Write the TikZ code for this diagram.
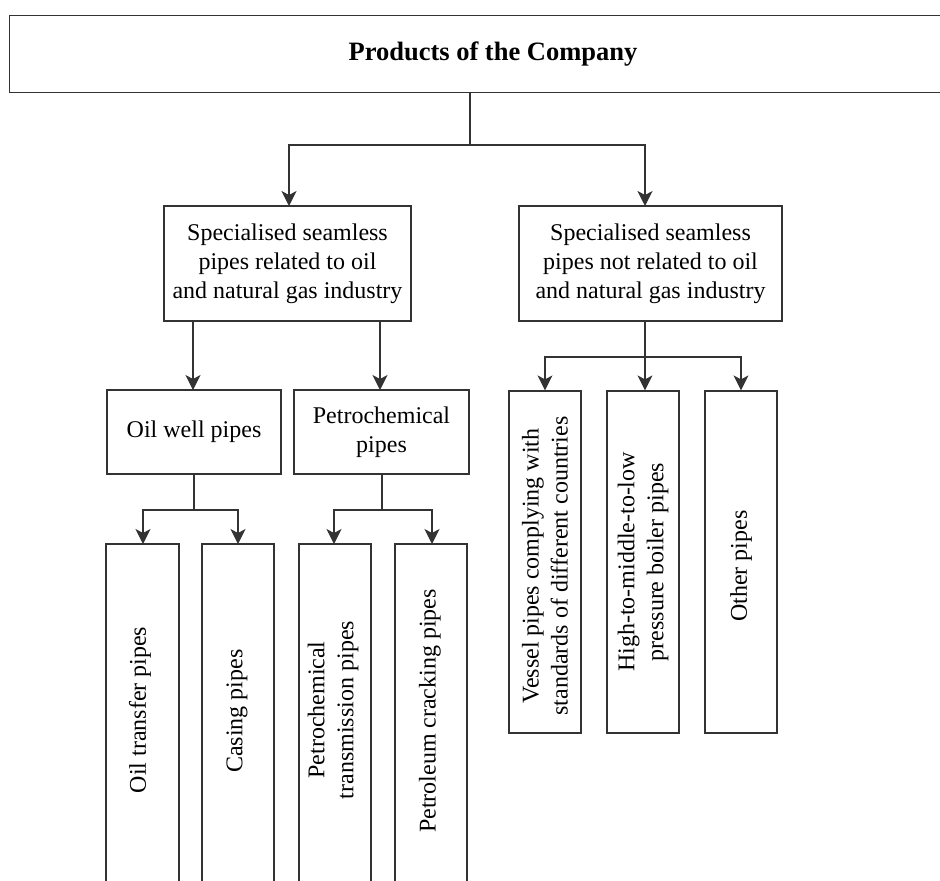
\documentclass[tikz,border=0pt]{standalone}
\usepackage{fontspec}
\setmainfont{Liberation Serif}
\usetikzlibrary{arrows.meta}
\definecolor{ln}{HTML}{333333}
\tikzset{
  box/.style={draw=ln, line width=1.2pt, rectangle, inner sep=0pt, align=center,
    font=\fontsize{24}{29}\selectfont, text=black},
  rot/.style={rotate=90, inner sep=0pt, align=center, font=\fontsize{24}{29}\selectfont, text=black},
  conn/.style={draw=ln, line width=1.2pt},
  arr/.style={conn, -{Stealth[length=15pt, width=15pt, inset=4pt]}}
}
\begin{document}
\begin{tikzpicture}[x=1pt,y=-1pt]
\useasboundingbox (0,0) rectangle (940,881);
\clip (0,0) rectangle (940,881);
% top
\node[box, minimum width=967pt, minimum height=77pt, font=\fontsize{26.5}{32}\selectfont\bfseries] (top) at (493,53.7) {Products of the Company};
% level 1
\node[box, minimum width=247pt, minimum height=115pt] (L1) at (287.5,263.5) {Specialised seamless\\pipes related to oil\\and natural gas industry};
\node[box, minimum width=263pt, minimum height=115pt] (R1) at (650.5,263.5) {Specialised seamless\\pipes not related to oil\\and natural gas industry};
% level 2
\node[box, minimum width=174pt, minimum height=84pt] (OW) at (194,432) {Oil well pipes};
\node[box, minimum width=175pt, minimum height=84pt] (PC) at (381.5,432) {Petrochemical\\pipes};
% right tall boxes
\node[box, minimum width=72pt, minimum height=342pt] (VS) at (545,562) {};
\node[box, minimum width=72pt, minimum height=342pt] (HM) at (643,562) {};
\node[box, minimum width=72pt, minimum height=342pt] (OP) at (741,562) {};
\node[rot] (VSt) at (545,566) {Vessel pipes complying with\\standards of different countries};
\node[rot] (HMt) at (643,562) {High-to-middle-to-low\\pressure boiler pipes};
\node[rot] (OPt) at (741,566) {Other pipes};
% bottom boxes (run past the lower edge)
\node[box, minimum width=73pt, minimum height=360pt] (OT) at (142.5,724) {};
\node[box, minimum width=72pt, minimum height=360pt] (CS) at (238,724) {};
\node[box, minimum width=72pt, minimum height=360pt] (PT) at (335,724) {};
\node[box, minimum width=72pt, minimum height=360pt] (PR) at (431,724) {};
\node[rot] (OTt) at (140,710) {Oil transfer pipes};
\node[rot] (CSt) at (237,711) {Casing pipes};
\node[rot] (PTt) at (333,710) {Petrochemical\\transmission pipes};
\node[rot] (PRt) at (430,711) {Petroleum cracking pipes};
% junction coordinates
\coordinate (j0) at (470,145);
\coordinate (a1) at (289,206);
\coordinate (a2) at (645,206);
\coordinate (b1s) at (193,321);
\coordinate (b1) at (193,390);
\coordinate (b2s) at (380,321);
\coordinate (b2) at (380,390);
\coordinate (jr) at (645,357);
\coordinate (jow) at (194,510);
\coordinate (jpc) at (382,510);
\coordinate (c1) at (143,544);
\coordinate (c2) at (238,544);
\coordinate (c3) at (334,544);
\coordinate (c4) at (432,544);
% connectors
\draw[conn] (top.south -| j0) -- (j0);
\draw[arr] (j0) -| (a1);
\draw[arr] (j0) -| (a2);
\draw[arr] (b1s) -- (b1);
\draw[arr] (b2s) -- (b2);
\draw[conn] (R1.south -| jr) -- (jr);
\draw[arr] (jr) -| (VS.north);
\draw[arr] (jr) -- (jr |- HM.north);
\draw[arr] (jr) -| (OP.north);
\draw[conn] (OW.south -| jow) -- (jow);
\draw[arr] (jow) -| (c1);
\draw[arr] (jow) -| (c2);
\draw[conn] (PC.south -| jpc) -- (jpc);
\draw[arr] (jpc) -| (c3);
\draw[arr] (jpc) -| (c4);
\end{tikzpicture}
\end{document}
